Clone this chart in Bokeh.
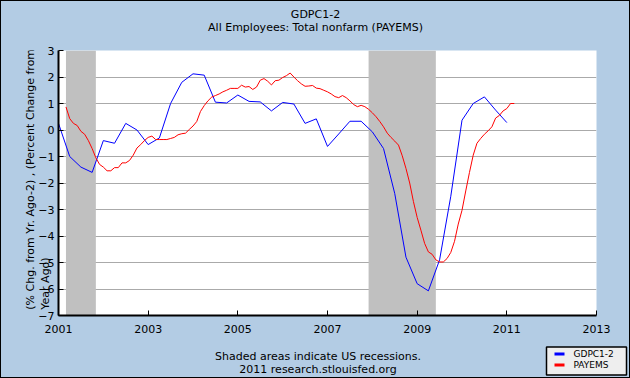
import pandas as pd
from bokeh.plotting import figure
from bokeh.layouts import column, row
from bokeh.models import Range1d, FixedTicker, Label
from bokeh.embed import file_html
from bokeh.resources import INLINE

# ---------------- data ----------------
title_1 = "GDPC1-2"
title_2 = "All Employees: Total nonfarm (PAYEMS)"
y_label_1 = "(% Chg. from Yr. Ago-2) , (Percent Change from"
y_label_2 = "Year Ago)"
note_1 = "Shaded areas indicate US recessions."
note_2 = "2011 research.stlouisfed.org"

x_ticks = [2001, 2003, 2005, 2007, 2009, 2011, 2013]
x_tick_labels = ["2001", "2003", "2005", "2007", "2009", "2011", "2013"]
y_ticks = [-7, -6, -5, -4, -3, -2, -1, 0, 1, 2, 3]

# recessions (decimal years)
rec_start = [2001 + 2 / 12, 2007 + 11 / 12]
rec_end = [2001 + 10 / 12, 2009 + 5 / 12]

# GDPC1-2, quarterly from 2001Q1
gdp_first = "2001Q1"
gdp_values = [0.25, -1.0, -1.4, -1.6, -0.4, -0.5, 0.25, 0.0, -0.55, -0.3,
              1.0, 1.8, 2.12, 2.07, 1.05, 1.02, 1.32, 1.08, 1.06, 0.72,
              1.04, 0.98, 0.25, 0.42, -0.62, -0.15, 0.33, 0.33, -0.07, -0.7,
              -2.4, -4.8, -5.8, -6.07, -4.9, -2.5, 0.37, 1.0, 1.25, 0.75, 0.28]

# PAYEMS, monthly from 2001-03
pay_first = "2001-03"
pay_values = [0.87, 0.43, 0.25, 0.17, -0.05, -0.16, -0.40, -0.70, -1.05, -1.30,
              -1.40, -1.54, -1.54, -1.42, -1.42, -1.24, -1.24, -1.15, -0.95, -0.68,
              -0.55, -0.40, -0.28, -0.23, -0.36, -0.36, -0.36, -0.36, -0.32, -0.28,
              -0.18, -0.14, -0.12, 0.02, 0.15, 0.32, 0.70, 0.92, 1.10, 1.24,
              1.30, 1.36, 1.44, 1.50, 1.57, 1.57, 1.57, 1.69, 1.62, 1.64,
              1.53, 1.62, 1.88, 1.94, 1.84, 1.70, 1.86, 1.88, 1.98, 2.05,
              2.15, 2.00, 1.86, 1.74, 1.65, 1.66, 1.68, 1.58, 1.56, 1.50,
              1.44, 1.36, 1.26, 1.22, 1.30, 1.22, 1.10, 0.96, 0.88, 0.93,
              0.88, 0.78, 0.65, 0.50, 0.32, 0.12, -0.12, -0.28, -0.42, -0.57,
              -0.97, -1.45, -2.00, -2.70, -3.30, -3.78, -4.28, -4.60, -4.69, -4.90,
              -4.98, -4.98, -4.85, -4.62, -4.20, -3.55, -3.03, -2.30, -1.60, -0.95,
              -0.50, -0.32, -0.16, -0.03, 0.12, 0.45, 0.55, 0.72, 0.81, 1.00,
              1.00]

series_names = ["GDPC1-2", "PAYEMS"]
series_colors = ["#0000FF", "#FF0000"]

# ---------------- build ----------------
gq = pd.period_range(gdp_first, periods=len(gdp_values), freq="Q")
gdp_x = [per.year + (per.quarter - 1) / 4 for per in gq]
pm = pd.period_range(pay_first, periods=len(pay_values), freq="M")
pay_x = [per.year + (per.month - 1) / 12 for per in pm]

BG = "#B3CCE4"
FONT = "DejaVu Sans"
W = 628
W_LEFT = 51
SHIFT = 17
H_TOP, H_MAIN, H_BOT = 40, 296, 40
X0, X1, Y0, Y1 = 2001, 2013, -7, 3


def banner(w, h):
    f = figure(width=w, height=h, x_range=Range1d(0, w), y_range=Range1d(h, 0),
               x_axis_type=None, y_axis_type=None, output_backend="svg",
               toolbar_location=None, min_border=0, background_fill_color=BG,
               border_fill_color=BG, outline_line_color=None)
    f.grid.visible = False
    return f


def text(f, s, x, y, size="11px", align="center", angle=0):
    f.add_layout(Label(x=x, y=y, text=s, text_align=align, text_baseline="middle",
                       angle=angle, angle_units="deg",
                       text_font=FONT, text_font_size=size, text_color="black"))


# top banner with titles
p0 = banner(W, H_TOP)
text(p0, title_1, 314, 12.5)
text(p0, title_2, 314, 26)

# left banner with the y-axis title
pl = banner(W_LEFT, H_MAIN)
text(pl, y_label_1, 28.5, 289.5, align="left", angle=90)
text(pl, y_label_2, 44, 289.5, align="left", angle=90)

# main chart (its transparent left border overlaps the left banner a little)
p = figure(width=W - W_LEFT, height=H_MAIN, x_range=Range1d(X0, X1),
           y_range=Range1d(Y0, Y1), output_backend="svg", toolbar_location=None,
           min_border_left=16, min_border_right=16, min_border_top=9,
           min_border_bottom=22, background_fill_color="white",
           border_fill_color=BG, border_fill_alpha=0)
p.styles = {"transform": f"translateX(-{SHIFT}px)"}
p.outline_line_color = None
p.xgrid.visible = False
p.ygrid.ticker = FixedTicker(ticks=y_ticks)
p.ygrid.grid_line_color = "#AAAAAA"
p.ygrid.grid_line_width = 1

p.xaxis.ticker = FixedTicker(ticks=x_ticks)
p.xaxis.major_label_overrides = {t: s for t, s in zip(x_ticks, x_tick_labels)}
p.yaxis.ticker = FixedTicker(ticks=y_ticks)
for ax in (p.xaxis, p.yaxis):
    ax.axis_line_color = "black"
    ax.axis_line_width = 2
    ax.major_tick_in = 5
    ax.major_tick_out = 0
    ax.major_tick_line_color = "black"
    ax.minor_tick_line_color = None
    ax.major_label_text_font = FONT
    ax.major_label_text_font_size = "11px"
    ax.major_label_text_color = "black"
p.xaxis.major_label_standoff = 9
p.yaxis.major_label_standoff = 4

p.quad(left=rec_start, right=rec_end, bottom=Y0, top=Y1,
       fill_color="#C0C0C0", line_color=None)
p.line(gdp_x, gdp_values, line_color=series_colors[0], line_width=1)
p.line(pay_x, pay_values, line_color=series_colors[1], line_width=1)

# bottom banner with notes and legend
p2 = banner(W, H_BOT)
text(p2, note_1, 316.5, 18.5)
text(p2, note_2, 316.5, 31.5)
p2.quad(left=545, right=625, top=9.5, bottom=37.5, fill_color="#EEEEEE",
        line_color="black", line_width=1.5)
for i, (name, col) in enumerate(zip(series_names, series_colors)):
    yy = 16.5 + 11 * i
    p2.segment(x0=553, y0=yy, x1=563, y1=yy, line_color=col, line_width=3)
    text(p2, name, 572, yy, size="9px", align="left")

page = column(p0, row(pl, p, spacing=0, styles={"background-color": BG}), p2,
              spacing=0, styles={"border": "1px solid black", "background-color": BG})

open("out.html", "w").write(file_html(page, INLINE))
